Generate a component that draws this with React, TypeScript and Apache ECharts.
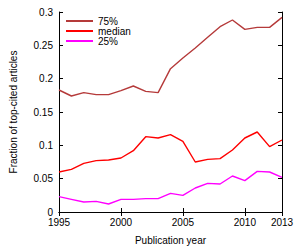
import React, { useEffect, useRef } from "react";
import * as echarts from "echarts";

const years = [1995, 1996, 1997, 1998, 1999, 2000, 2001, 2002, 2003, 2004, 2005, 2006, 2007, 2008, 2009, 2010, 2011, 2012, 2013];
const p75 = [0.183, 0.174, 0.179, 0.176, 0.176, 0.182, 0.189, 0.181, 0.179, 0.215, 0.231, 0.246, 0.262, 0.278, 0.288, 0.274, 0.277, 0.277, 0.292];
const median = [0.060, 0.064, 0.073, 0.077, 0.078, 0.081, 0.092, 0.113, 0.111, 0.116, 0.106, 0.075, 0.079, 0.080, 0.093, 0.111, 0.120, 0.098, 0.108];
const p25 = [0.023, 0.019, 0.015, 0.016, 0.012, 0.019, 0.019, 0.020, 0.020, 0.028, 0.025, 0.036, 0.043, 0.042, 0.054, 0.047, 0.061, 0.060, 0.052];
const seriesNames = ["75%", "median", "25%"];
const colors = ["#b53a3a", "#ff0000", "#ff00ff"];

const FONT = "Liberation Sans";

export default function App() {
  const ref = useRef<HTMLDivElement>(null);
  useEffect(() => {
    const chart = echarts.init(ref.current!, null, { renderer: "svg" });
    const allData = [p75, median, p25];
    const axisCommon = {
      axisLine: { show: true, lineStyle: { color: "#000", width: 1 } },
      axisTick: { show: true, inside: true, length: 4, lineStyle: { color: "#000" } },
      splitLine: { show: false },
    };
    chart.setOption({
      animation: false,
      textStyle: { fontFamily: FONT },
      grid: { left: 53, right: 18, top: 12, bottom: 31 },
      legend: {
        orient: "vertical",
        left: 65,
        top: 16,
        itemWidth: 27,
        itemHeight: 10,
        itemGap: 0,
        data: seriesNames,
        itemStyle: { opacity: 0 },
        textStyle: { fontFamily: FONT, fontSize: 10, color: "#000" },
        padding: 0,
      },
      xAxis: [
        {
          type: "value",
          min: 1995,
          max: 2013,
          interval: 5,
          ...axisCommon,
          axisLabel: { fontSize: 10, color: "#000", margin: 5, formatter: (v: number) => String(v) },
          name: "Publication year",
          nameLocation: "middle",
          nameGap: 23,
          nameTextStyle: { fontSize: 10, color: "#000", fontFamily: FONT },
        },
        {
          type: "value",
          position: "top",
          min: 1995,
          max: 2013,
          interval: 5,
          ...axisCommon,
          axisLabel: { show: false },
        },
      ],
      yAxis: [
        {
          type: "value",
          min: 0,
          max: 0.3,
          interval: 0.05,
          ...axisCommon,
          axisLabel: { fontSize: 10, color: "#000", margin: 6 },
          name: "Fraction of top-cited articles",
          nameLocation: "middle",
          nameGap: 41,
          nameTextStyle: { fontSize: 10, color: "#000", fontFamily: FONT },
        },
        {
          type: "value",
          position: "right",
          min: 0,
          max: 0.3,
          interval: 0.05,
          ...axisCommon,
          axisLabel: { show: false },
        },
      ],
      series: allData.map((d, i) => ({
        type: "line",
        name: seriesNames[i],
        data: years.map((y, j) => [y, d[j]]),
        showSymbol: false,
        symbol: "none",
        lineStyle: { color: colors[i], width: 1.4 },
        itemStyle: { color: colors[i] },
      })),
    });
    return () => chart.dispose();
  }, []);
  return <div ref={ref} style={{ position: "absolute", left: 0, top: 0, width: 300, height: 250 }} />;
}
